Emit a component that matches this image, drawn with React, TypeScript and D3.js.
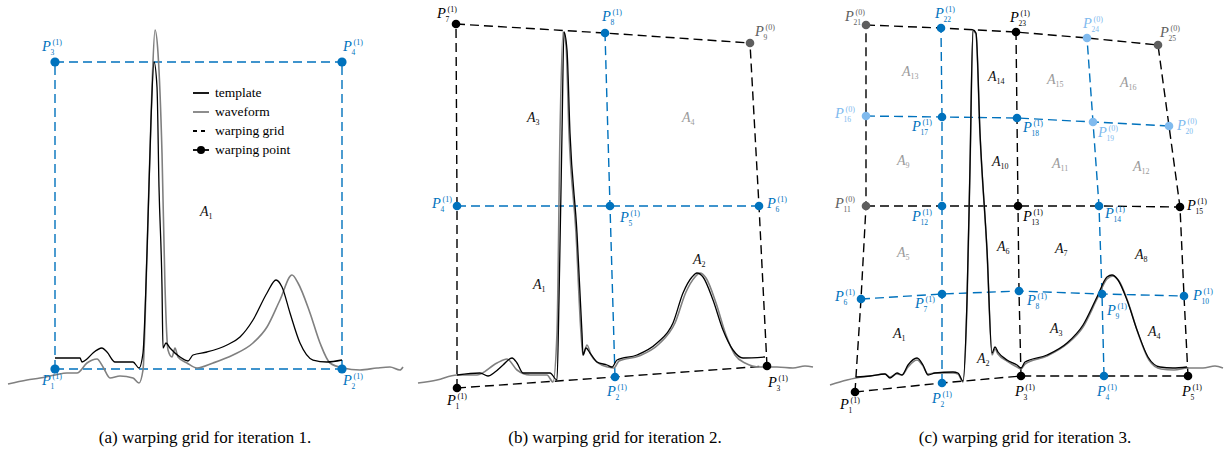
import * as d3 from 'd3';

type Pt = [number, number];

// ---- panel (a): iteration 1 ----
const templateA: Pt[] = [
  [47, 22], [72, 22], [74, 18], [79, 21], [85, 27], [94, 32], [99, 28], [107, 18], [125, 18], [131, 12],
  [135, 27], [139, 127], [143, 260], [146, 318], [149, 293], [151, 193], [154, 93], [155, 32], [158, 37],
  [162, 32], [172, 23], [180, 19], [185, 25], [199, 28], [219, 35], [232, 43], [245, 60], [259, 87],
  [268, 100], [274, 93], [282, 67], [292, 37], [305, 20], [319, 18], [334, 20],
];
const waveformA: Pt[] = [
  [0, -4], [19, 0], [32, 2], [47, 5], [59, 7], [69, 7], [79, 17], [89, 21], [95, 13], [102, 2], [112, 4],
  [125, 2], [131, -3], [135, 10], [139, 127], [144, 293], [147, 350], [150, 327], [154, 227], [157, 93],
  [160, 30], [164, 23], [167, 32], [170, 23], [179, 17], [189, 12], [205, 17], [225, 25], [245, 37],
  [259, 53], [272, 80], [284, 105], [290, 97], [302, 67], [312, 37], [322, 17], [335, 12], [352, 10],
  [369, 12], [382, 13], [392, 10], [395, 13],
];
const gridA_t = [47, 334, 47, 334];
const gridA_v = [11, 11, 318, 318];
const gridA_kind = ['new', 'new', 'new', 'new'];
const gridA_rows = [1, 1];
const gridA_cols = [1, 1];
const areasA = [{ n: 1, t: 192, v: 164, old: false }];

// ---- panel (b): iteration 2 ----
const templateB: Pt[] = [
  [39, 5], [62, 7], [70, 4], [77, 8], [85, 15], [94, 22], [99, 17], [105, 7], [132, 7], [139, 0],
  [141, 80], [144, 247], [146, 348], [149, 330], [152, 247], [159, 147], [164, 47], [165, 25], [168, 32],
  [172, 27], [179, 18], [189, 15], [194, 13], [199, 20], [219, 25], [239, 37], [255, 57], [265, 87],
  [274, 103], [279, 107], [285, 103], [295, 80], [305, 50], [315, 30], [325, 22], [347, 23],
];
const waveformB: Pt[] = [
  [0, -3], [19, 0], [39, 5], [59, 5], [79, 17], [89, 21], [99, 10], [112, 5], [129, 5], [135, -2],
  [139, 47], [142, 247], [145, 348], [148, 335], [151, 247], [158, 147], [163, 47], [165, 25], [169, 35],
  [173, 25], [180, 17], [190, 13], [196, 12], [201, 19], [221, 24], [241, 36], [257, 57], [268, 88],
  [277, 103], [282, 107], [288, 102], [298, 77], [308, 45], [317, 25], [327, 17], [342, 13], [359, 13],
  [375, 12], [387, 14], [395, 13],
];
const gridB_t = [39, 197, 349, 39, 192, 341, 38, 187, 332];
const gridB_v = [-8, 3, 14, 174, 174, 174, 356, 347, 337];
const gridB_kind = ['old', 'new', 'old', 'new', 'new', 'new', 'old', 'new', 'oldFixed'];
const gridB_rows = [0, 1, 0];
const gridB_cols = [0, 1, 0];
const areasB = [
  { n: 1, t: 115, v: 91, old: false },
  { n: 2, t: 275, v: 116, old: false },
  { n: 3, t: 109, v: 258, old: false },
  { n: 4, t: 264, v: 258, old: true },
];

// ---- panel (c): iteration 3 ----
const templateC: Pt[] = [
  [28, 3], [42, 4], [57, 6], [62, 2], [69, 7], [74, 5], [80, 15], [89, 22], [95, 15], [100, 5], [107, 7],
  [125, 8], [130, 7], [135, -1], [139, 80], [142, 213], [145, 350], [148, 347], [152, 247], [159, 130],
  [164, 27], [167, 33], [170, 28], [179, 20], [189, 15], [193, 12], [197, 18], [219, 25], [239, 37],
  [255, 55], [269, 83], [279, 103], [284, 105], [290, 100], [299, 80], [309, 50], [320, 23], [332, 13],
  [345, 12], [359, 13],
];
const waveformC: Pt[] = [
  [2, -5], [19, 0], [28, 2], [42, 4], [57, 6], [62, 3], [69, 6], [74, 5], [80, 13], [89, 20], [95, 14],
  [100, 6], [107, 7], [125, 7], [130, 6], [135, -2], [139, 75], [142, 212], [145, 349], [148, 346],
  [152, 246], [159, 129], [164, 25], [167, 31], [170, 26], [179, 19], [189, 13], [193, 11], [197, 16],
  [219, 24], [239, 36], [255, 53], [269, 81], [279, 101], [285, 104], [291, 99], [300, 78], [310, 47],
  [321, 20], [333, 11], [346, 10], [360, 12], [375, 12], [387, 14], [395, 12],
];
const gridC_t = [
  27, 114, 193, 276, 360,
  33, 114, 191, 274, 356,
  38, 114, 190, 271, 352,
  38, 114, 189, 265, 341,
  38, 113, 188, 259, 330,
];
const gridC_v = [
  -12, -3, 4, 4, 4,
  81, 86, 89, 86, 84,
  174, 174, 174, 174, 173,
  264, 263, 262, 258, 254,
  355, 352, 348, 342, 335,
];
const gridC_kind = [
  'old', 'new', 'old', 'new', 'old',
  'new', 'new', 'new', 'new', 'new',
  'oldFixed', 'new', 'old', 'new', 'old',
  'newFixed', 'new', 'new', 'newFixed', 'newFixed',
  'oldFixed', 'new', 'old', 'newFixed', 'oldFixed',
];
const gridC_rows = [0, 1, 0, 1, 0];
const gridC_cols = [0, 1, 0, 1, 0];
const areasC = [
  { n: 1, t: 65, v: 42, old: false }, { n: 2, t: 149, v: 17, old: false },
  { n: 3, t: 222, v: 47, old: false }, { n: 4, t: 320, v: 44, old: false },
  { n: 5, t: 69, v: 123, old: true }, { n: 6, t: 169, v: 129, old: false },
  { n: 7, t: 227, v: 127, old: false }, { n: 8, t: 307, v: 121, old: false },
  { n: 9, t: 69, v: 215, old: true }, { n: 10, t: 164, v: 214, old: false },
  { n: 11, t: 224, v: 212, old: true }, { n: 12, t: 305, v: 209, old: true },
  { n: 13, t: 74, v: 304, old: true }, { n: 14, t: 160, v: 299, old: false },
  { n: 15, t: 219, v: 296, old: true }, { n: 16, t: 292, v: 293, old: true },
];

const legendLabels = ['template', 'waveform', 'warping grid', 'warping point'];
const captions = [
  '(a) warping grid for iteration 1.',
  '(b) warping grid for iteration 2.',
  '(c) warping grid for iteration 3.',
];

// label placement (px offsets of the "P" from its point)
const labelPosA = [[-13, 16], [1, 16], [-13, -11], [1, -11]];
const labelPosB = [[-10, 17], [-8, 19], [1, 21], [-25, 2], [10, 16], [8, 2], [-19, -6], [-3, -12], [5, -7]];
const labelPosC = [
  [-15, 17], [-10, 20], [-6, 20], [-7, 20], [-6, 20],
  [-26, 2], [-27, 14], [8, 14], [5, 21], [9, 4],
  [-31, 2], [-30, 15], [5, 15], [6, 12], [7, 3],
  [-31, 2], [-30, 14], [6, 14], [5, 15], [8, 4],
  [-21, -4], [-6, -10], [-6, -10], [-4, -10], [2, -8],
];

const BLUE = '#0072BD';
const LIGHT = '#80BAEE';
const DARKGRAY = '#5e5e5e';
const WAVE = '#808080';
const AGRAY = '#9a9a9a';
const FONT = '"Liberation Serif", "DejaVu Serif", serif';

const kindColor: Record<string, string> = {
  old: '#000',
  new: BLUE,
  oldFixed: DARKGRAY,
  newFixed: LIGHT,
};

const PANEL_W = 410;

function Panel({ idx, template, waveform, gt, gv, kinds, rows, cols, areas, labelPos, r }: any) {
  const x0 = 8 + idx * PANEL_W;
  const x = d3.scaleLinear().domain([0, 400]).range([x0, x0 + 400]);
  const y = d3.scaleLinear().domain([0, 360]).range([380, 20]);
  const curve = d3.line<Pt>().x(d => x(d[0])).y(d => y(d[1])).curve(d3.curveMonotoneX);
  const poly = d3.line<number>().x(i => x(gt[i])).y(i => y(gv[i]));
  const ncol = cols.length;

  const lines: any[] = [];
  rows.forEach((lvl: number, ri: number) => {
    const ids = d3.range(ncol).map(c => ri * ncol + c);
    lines.push(<path key={'r' + ri} d={poly(ids) || ''} fill="none" stroke={lvl ? BLUE : '#000'}
      strokeWidth={1.4} strokeDasharray="9,5" />);
  });
  cols.forEach((lvl: number, ci: number) => {
    const ids = d3.range(rows.length).map(rr => rr * ncol + ci);
    lines.push(<path key={'c' + ci} d={poly(ids) || ''} fill="none" stroke={lvl ? BLUE : '#000'}
      strokeWidth={1.4} strokeDasharray="9,5" />);
  });

  return (
    <g>
      {lines}
      <path d={curve(waveform) || ''} fill="none" stroke={WAVE} strokeWidth={1.6} />
      <path d={curve(template) || ''} fill="none" stroke="#000" strokeWidth={1.3} />
      {areas.map((a: any) => (
        <text key={'a' + a.n} x={x(a.t)} y={y(a.v)} fontFamily={FONT} fill={a.old ? AGRAY : '#111'}>
          <tspan fontStyle="italic" fontSize={14}>A</tspan>
          <tspan fontSize={8} dy={3}>{a.n}</tspan>
        </text>
      ))}
      {gt.map((t: number, i: number) => {
        const px = x(t), py = y(gv[i]);
        const col = kindColor[kinds[i]];
        const lx = px + labelPos[i][0], ly = py + labelPos[i][1];
        const sup = kinds[i].endsWith('Fixed') ? '(0)' : '(1)';
        return (
          <g key={'p' + i}>
            <circle cx={px} cy={py} r={r} fill={col} />
            <text x={lx} y={ly} fontFamily={FONT} fontStyle="italic" fontSize={14.5} fill={col}>P</text>
            <text x={lx + 8.5} y={ly + 3.5} fontFamily={FONT} fontSize={7.5} fill={col}>{i + 1}</text>
            <text x={lx + 10.5} y={ly - 6.5} fontFamily={FONT} fontSize={8} fill={col}>{sup}</text>
          </g>
        );
      })}
      <text x={x0 + 197} y={443} textAnchor="middle" fontFamily={FONT} fontSize={17} fill="#000">
        {captions[idx]}
      </text>
    </g>
  );
}

function Legend() {
  const ys = d3.scalePoint<string>().domain(legendLabels).range([93, 150]);
  return (
    <g>
      {legendLabels.map((lab, i) => {
        const yy = ys(lab) as number;
        return (
          <g key={lab}>
            <line x1={193} x2={209} y1={yy} y2={yy} stroke={i === 1 ? WAVE : '#000'} strokeWidth={1.8}
              strokeDasharray={i === 2 ? '4,4' : undefined} />
            {i === 3 && <circle cx={201} cy={yy} r={4} fill="#000" />}
            <text x={215} y={yy + 4} fontFamily={FONT} fontSize={13.5} fill="#000">{lab}</text>
          </g>
        );
      })}
    </g>
  );
}

export default function App() {
  return (
    <svg width={1229} height={462} style={{ position: 'absolute', left: 0, top: 0, background: '#fff' }}>
      <rect width={1229} height={462} fill="#fff" />
      <Panel idx={0} template={templateA} waveform={waveformA} gt={gridA_t} gv={gridA_v} kinds={gridA_kind}
        rows={gridA_rows} cols={gridA_cols} areas={areasA} labelPos={labelPosA} r={4.6} />
      <Legend />
      <Panel idx={1} template={templateB} waveform={waveformB} gt={gridB_t} gv={gridB_v} kinds={gridB_kind}
        rows={gridB_rows} cols={gridB_cols} areas={areasB} labelPos={labelPosB} r={4.3} />
      <Panel idx={2} template={templateC} waveform={waveformC} gt={gridC_t} gv={gridC_v} kinds={gridC_kind}
        rows={gridC_rows} cols={gridC_cols} areas={areasC} labelPos={labelPosC} r={4.3} />
    </svg>
  );
}
